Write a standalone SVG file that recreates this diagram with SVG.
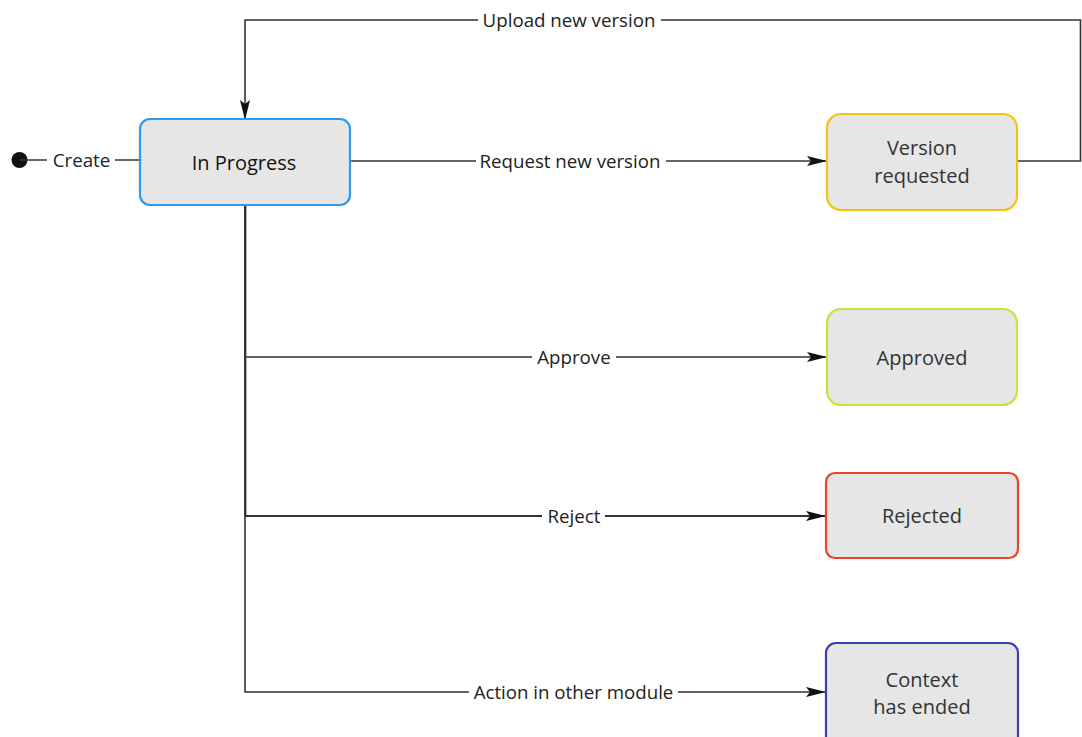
<svg xmlns="http://www.w3.org/2000/svg" width="1082" height="737" viewBox="0 0 1082 737">
<style>
.node rect{fill:#e6e6e6;stroke-width:2.2}
.ntext{font-family:"Open Sans","Liberation Sans",sans-serif;font-size:20px;fill:#333;text-anchor:middle;dominant-baseline:central}
.edge{fill:none;stroke:#333;stroke-width:1.6}
.lbl{font-family:"Open Sans","Liberation Sans",sans-serif;font-size:18.7px;fill:#222;text-anchor:middle;dominant-baseline:central}
.bg{fill:#fff}
</style>
<defs>
<marker id="arr" markerWidth="20" markerHeight="10" refX="19" refY="5" orient="auto" markerUnits="userSpaceOnUse">
<path d="M0,0 L20,5 L0,10 L4,5 z" fill="#111"/>
</marker>
</defs>
<rect width="1082" height="737" fill="#fff"/>
<g id="connectors">
<circle cx="19.5" cy="160" r="8" fill="#111"/>
<path class="edge" d="M20,160 H139"/>
<rect class="bg" x="47" y="148" width="68" height="24"/>
<text class="lbl" x="81.5" y="159">Create</text>

<path class="edge" d="M1017,161 H1080.5 V20 H245 V119" marker-end="url(#arr)"/>
<rect class="bg" x="478" y="8" width="183" height="24"/>
<text class="lbl" x="569" y="19">Upload new version</text>

<path class="edge" d="M350,161 H826" marker-end="url(#arr)"/>
<rect class="bg" x="476" y="149" width="190" height="24"/>
<text class="lbl" x="570" y="160">Request new version</text>

<path class="edge" d="M245,205 V357 H826" marker-end="url(#arr)"/>
<rect class="bg" x="532" y="345" width="84" height="24"/>
<text class="lbl" x="574" y="356">Approve</text>

<path class="edge" d="M245.3,205 V516 H825" marker-end="url(#arr)" style="stroke-width:2.2"/>
<rect class="bg" x="542" y="504" width="63" height="24"/>
<text class="lbl" x="574" y="515">Reject</text>

<path class="edge" d="M245,205 V692 H825" marker-end="url(#arr)"/>
<rect class="bg" x="469" y="680" width="209" height="24"/>
<text class="lbl" x="573.5" y="691">Action in other module</text>
</g>
<g id="in-progress" class="node">
<rect x="140" y="119" width="210" height="86" rx="10" stroke="#2c9af0"/>
<text class="ntext" x="244" y="162" style="fill:#111">In Progress</text>
</g>
<g id="version-requested" class="node">
<rect x="827" y="114" width="190" height="96" rx="14" stroke="#f8c10e"/>
<text class="ntext" x="922" y="147">Version</text>
<text class="ntext" x="922" y="175">requested</text>
</g>
<g id="approved" class="node">
<rect x="827" y="309" width="190" height="96" rx="14" stroke="#c8e33c"/>
<text class="ntext" x="922" y="357">Approved</text>
</g>
<g id="rejected" class="node">
<rect x="826" y="473" width="192" height="85" rx="9" stroke="#ef4328"/>
<text class="ntext" x="922" y="515">Rejected</text>
</g>
<g id="context-ended" class="node">
<rect x="826" y="643" width="192" height="110" rx="10" stroke="#3b3fae"/>
<text class="ntext" x="922" y="679">Context</text>
<text class="ntext" x="922" y="706">has ended</text>
</g>
</svg>
